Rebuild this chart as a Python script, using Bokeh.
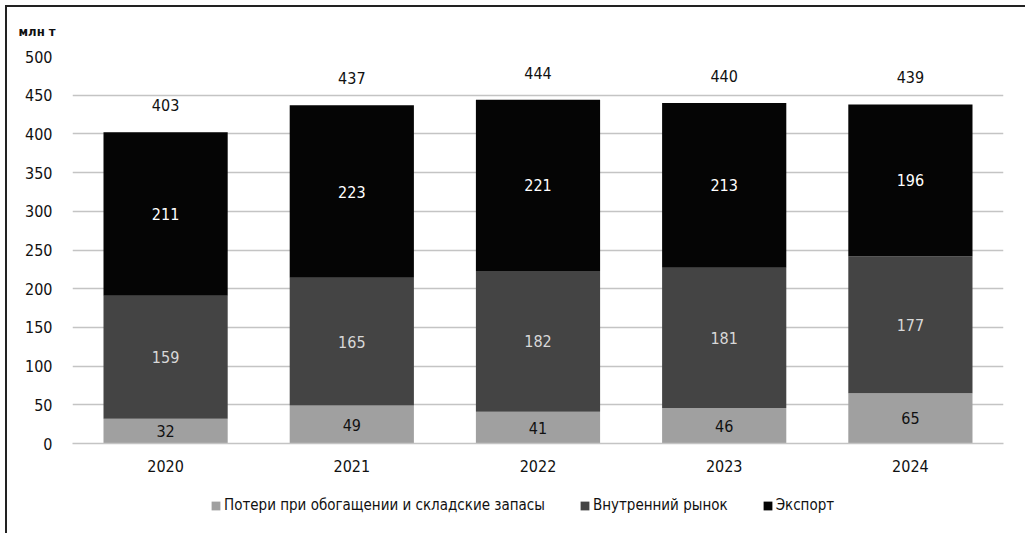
from bokeh.plotting import figure
from bokeh.layouts import column
from bokeh.models import Range1d, FactorRange, ColumnDataSource, Legend, LegendItem, SingleIntervalTicker
from bokeh.embed import file_html
from bokeh.resources import INLINE
from bokeh.core.properties import value

years = ["2020", "2021", "2022", "2023", "2024"]
losses = [32, 49, 41, 46, 65]
internal = [159, 165, 182, 181, 177]
export = [211, 223, 221, 213, 196]
totals = [403, 437, 444, 440, 439]
series_names = ["Потери при обогащении и складские запасы", "Внутренний рынок", "Экспорт"]
y_unit = "млн т"

FONT = "DejaVu Sans Condensed"
C_LOSS = "#a0a0a0"
C_INT = "#444444"
C_EXP = "#050505"

b1 = [0] * len(years)
t1 = [a for a in losses]
t2 = [a + b for a, b in zip(losses, internal)]
t3 = [a + b + c for a, b, c in zip(losses, internal, export)]

src = ColumnDataSource(dict(
    x=years, b1=b1, t1=t1, t2=t2, t3=t3,
    m1=[(a + b) / 2 for a, b in zip(b1, t1)],
    m2=[(a + b) / 2 for a, b in zip(t1, t2)],
    m3=[(a + b) / 2 for a, b in zip(t2, t3)],
    l1=[str(v) for v in losses], l2=[str(v) for v in internal], l3=[str(v) for v in export],
    tot=totals, ltot=[str(v) for v in totals],
))

p = figure(x_range=FactorRange(*years, range_padding=0), y_range=Range1d(0, 500),
           width=1018, height=483, output_backend="svg", toolbar_location=None,
           min_border_left=65, min_border_top=48, min_border_right=22, min_border_bottom=47,
           title=y_unit)
p.outline_line_color = None
p.background_fill_color = "white"

p.title.align = "left"
p.title.vertical_align = "top"
p.title.offset = -54
p.title.standoff = 32
p.title.text_font = FONT
p.title.text_font_size = "13px"
p.title.text_font_style = "bold"
p.title.text_color = "#111111"

W = 0.667
p.vbar(x="x", bottom="b1", top="t1", width=W, source=src, fill_color=C_LOSS, line_color=None)
p.vbar(x="x", bottom="t1", top="t2", width=W, source=src, fill_color=C_INT, line_color=None)
p.vbar(x="x", bottom="t2", top="t3", width=W, source=src, fill_color=C_EXP, line_color=None)

FS = "16px"
p.text(x="x", y="m1", text="l1", source=src, text_align="center", text_baseline="middle",
       text_font=value(FONT), text_font_size=FS, text_color="#111111")
p.text(x="x", y="m2", text="l2", source=src, text_align="center", text_baseline="middle",
       text_font=value(FONT), text_font_size=FS, text_color="#d8d8d8")
p.text(x="x", y="m3", text="l3", source=src, text_align="center", text_baseline="middle",
       text_font=value(FONT), text_font_size=FS, text_color="#ffffff")
p.text(x="x", y="tot", text="ltot", source=src, text_align="center", text_baseline="middle",
       y_offset=-27, text_font=value(FONT), text_font_size=FS, text_color="#111111")

p.ygrid.grid_line_color = "#c4c4c4"
p.ygrid.grid_line_width = 1.5
p.xgrid.grid_line_color = None
p.yaxis.ticker = SingleIntervalTicker(interval=50)
p.yaxis.axis_line_color = None
p.yaxis.major_tick_line_color = None
p.yaxis.minor_tick_line_color = None
p.yaxis.major_label_standoff = 14
p.xaxis.axis_line_color = "#c4c4c4"
p.xaxis.axis_line_width = 1.5
p.xaxis.major_tick_line_color = None
p.xaxis.minor_tick_line_color = None
p.xaxis.major_label_standoff = 10
for ax in (p.xaxis, p.yaxis):
    ax.major_label_text_font = FONT
    ax.major_label_text_font_size = FS
    ax.major_label_text_color = "#111111"

# legend strip: zero-width proxy bars outside its y range, only the legend shows
q = figure(width=1018, height=43, output_backend="svg", toolbar_location=None,
           x_range=FactorRange(*years, range_padding=0), y_range=Range1d(1000, 1010),
           min_border_left=65, min_border_right=22, min_border_top=0, min_border_bottom=0)
q.axis.visible = False
q.grid.visible = False
q.outline_line_color = None
q1 = q.vbar(x="x", bottom="b1", top="t1", width=0, source=src, fill_color=C_LOSS, line_color=None)
q2 = q.vbar(x="x", bottom="t1", top="t2", width=0, source=src, fill_color=C_INT, line_color=None)
q3 = q.vbar(x="x", bottom="t2", top="t3", width=0, source=src, fill_color=C_EXP, line_color=None)
legend = Legend(items=[LegendItem(label=series_names[0], renderers=[q1]),
                       LegendItem(label=series_names[1], renderers=[q2]),
                       LegendItem(label=series_names[2], renderers=[q3])],
                orientation="horizontal", location=(138, 19),
                label_text_font=FONT, label_text_font_size="15px", label_text_color="#111111",
                glyph_width=11, glyph_height=11, spacing=34, label_standoff=3, label_height=16,
                background_fill_alpha=0, border_line_color=None, padding=0, margin=0)
q.add_layout(legend, "center")

lay = column(p, q, spacing=0,
             styles={"margin-left": "5px", "margin-top": "5px",
                     "border-left": "2px solid #222222", "border-top": "2px solid #222222"})

open("out.html", "w").write(file_html(lay, INLINE))
